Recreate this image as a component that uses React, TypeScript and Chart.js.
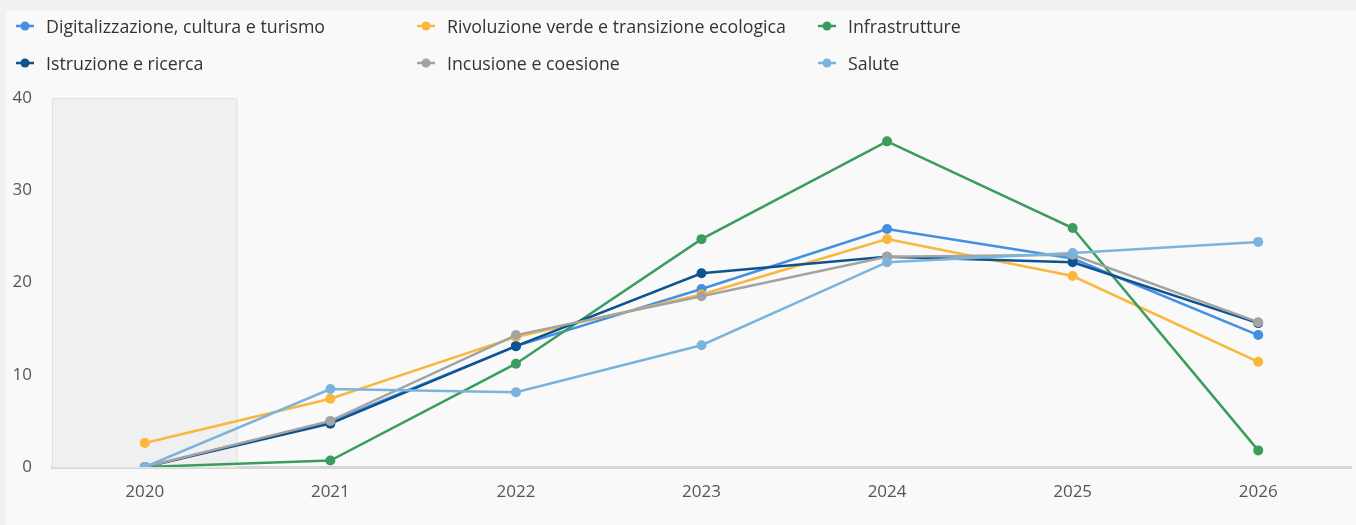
import React, { useEffect, useRef } from "react";
import { Chart, registerables } from "chart.js";

Chart.register(...registerables);

const years = ["2020", "2021", "2022", "2023", "2024", "2025", "2026"];

const seriesNames = [
  "Digitalizzazione, cultura e turismo",
  "Rivoluzione verde e transizione ecologica",
  "Infrastrutture",
  "Istruzione e ricerca",
  "Incusione e coesione",
  "Salute",
];

const digitalizzazione = [0, 4.9, 13.1, 19.3, 25.8, 22.6, 14.3];
const rivoluzioneVerde = [2.6, 7.4, 14.1, 18.7, 24.7, 20.7, 11.4];
const infrastrutture = [0, 0.7, 11.2, 24.7, 35.3, 25.9, 1.8];
const istruzione = [0, 4.7, 13.1, 21.0, 22.8, 22.2, 15.6];
const inclusione = [0, 5.0, 14.3, 18.5, 22.8, 23.0, 15.7];
const salute = [0, 8.45, 8.1, 13.2, 22.2, 23.2, 24.4];

const seriesValues = [digitalizzazione, rivoluzioneVerde, infrastrutture, istruzione, inclusione, salute];
const seriesColors = ["#4390e3", "#f9b73c", "#3a9d5d", "#0d5390", "#a3a3a3", "#7ab4dc"];

const yTicks = [0, 10, 20, 30, 40];
const highlightedCategory = "2020";

const FONT = "'Open Sans', 'Noto Sans', sans-serif";

const bandPlugin = {
  id: "band",
  beforeDatasetsDraw(chart: any) {
    const x = chart.scales.x;
    const area = chart.chartArea;
    const idx = years.indexOf(highlightedCategory);
    if (idx < 0) return;
    const step = x.getPixelForValue(1) - x.getPixelForValue(0);
    const cx = x.getPixelForValue(idx);
    const left = cx - step / 2;
    const ctx = chart.ctx;
    ctx.save();
    ctx.fillStyle = "#f0f0f0";
    ctx.fillRect(left, area.top, step, area.bottom - area.top);
    ctx.strokeStyle = "#e2e2e2";
    ctx.lineWidth = 1;
    ctx.strokeRect(left + 0.5, area.top + 0.5, step - 1, area.bottom - area.top);
    ctx.restore();
  },
};

export default function App() {
  const ref = useRef<HTMLCanvasElement | null>(null);

  useEffect(() => {
    if (!ref.current) return;
    const chart = new Chart(ref.current, {
      type: "line",
      data: {
        labels: years,
        datasets: seriesNames.map((name, i) => ({
          label: name,
          data: seriesValues[i],
          borderColor: seriesColors[i],
          backgroundColor: seriesColors[i],
          borderWidth: 2.5,
          pointRadius: 5,
          pointHoverRadius: 5,
          pointBorderWidth: 0,
          tension: 0,
          order: seriesNames.length - i,
        })),
      },
      options: {
        animation: false,
        responsive: false,
        maintainAspectRatio: false,
        layout: { padding: { top: 98, right: 4, left: 0, bottom: 0 } },
        plugins: {
          legend: { display: false },
          tooltip: { enabled: false },
        },
        scales: {
          x: {
            offset: true,
            grid: { display: false, drawTicks: false, offset: true },
            border: { display: true, color: "#d6d6d6", width: 3 },
            ticks: { color: "#555", font: { family: FONT, size: 17 }, padding: 15 },
            afterFit(scale: any) {
              scale.height = 58;
            },
          },
          y: {
            min: 0,
            max: 40,
            afterBuildTicks(scale: any) {
              scale.ticks = yTicks.map((v) => ({ value: v }));
            },
            grid: { display: false, drawTicks: false },
            border: { display: false },
            ticks: { color: "#555", font: { family: FONT, size: 17 }, padding: 20 },
            afterFit(scale: any) {
              scale.width = 52;
            },
          },
        },
      },
      plugins: [bandPlugin],
    });
    return () => chart.destroy();
  }, []);

  return (
    <div style={{ position: "absolute", left: 0, top: 0, width: 1356, height: 525, background: "#f1f1f1", overflow: "hidden" }}>
      <div style={{ position: "absolute", left: 6, top: 10, width: 1350, height: 515, background: "#f9f9f9" }} />
      <canvas ref={ref} width={1356} height={525} style={{ position: "absolute", left: 0, top: 0 }} />
      <div style={{ position: "absolute", left: 15, top: 14, width: 1300, display: "flex", flexWrap: "wrap", fontFamily: FONT, fontSize: 17.8, color: "#333" }}>
        {seriesNames.map((name, i) => (
          <div key={name} style={{ width: 401, height: 37, display: "flex", alignItems: "flex-start" }}>
            <svg width={31} height={24} style={{ flex: "none" }}>
              <line x1={1} y1={12} x2={19} y2={12} stroke={seriesColors[i]} strokeWidth={2.5} />
              <circle cx={10} cy={12} r={4.5} fill={seriesColors[i]} />
            </svg>
            <span style={{ lineHeight: "24px", whiteSpace: "nowrap" }}>{name}</span>
          </div>
        ))}
      </div>
    </div>
  );
}
